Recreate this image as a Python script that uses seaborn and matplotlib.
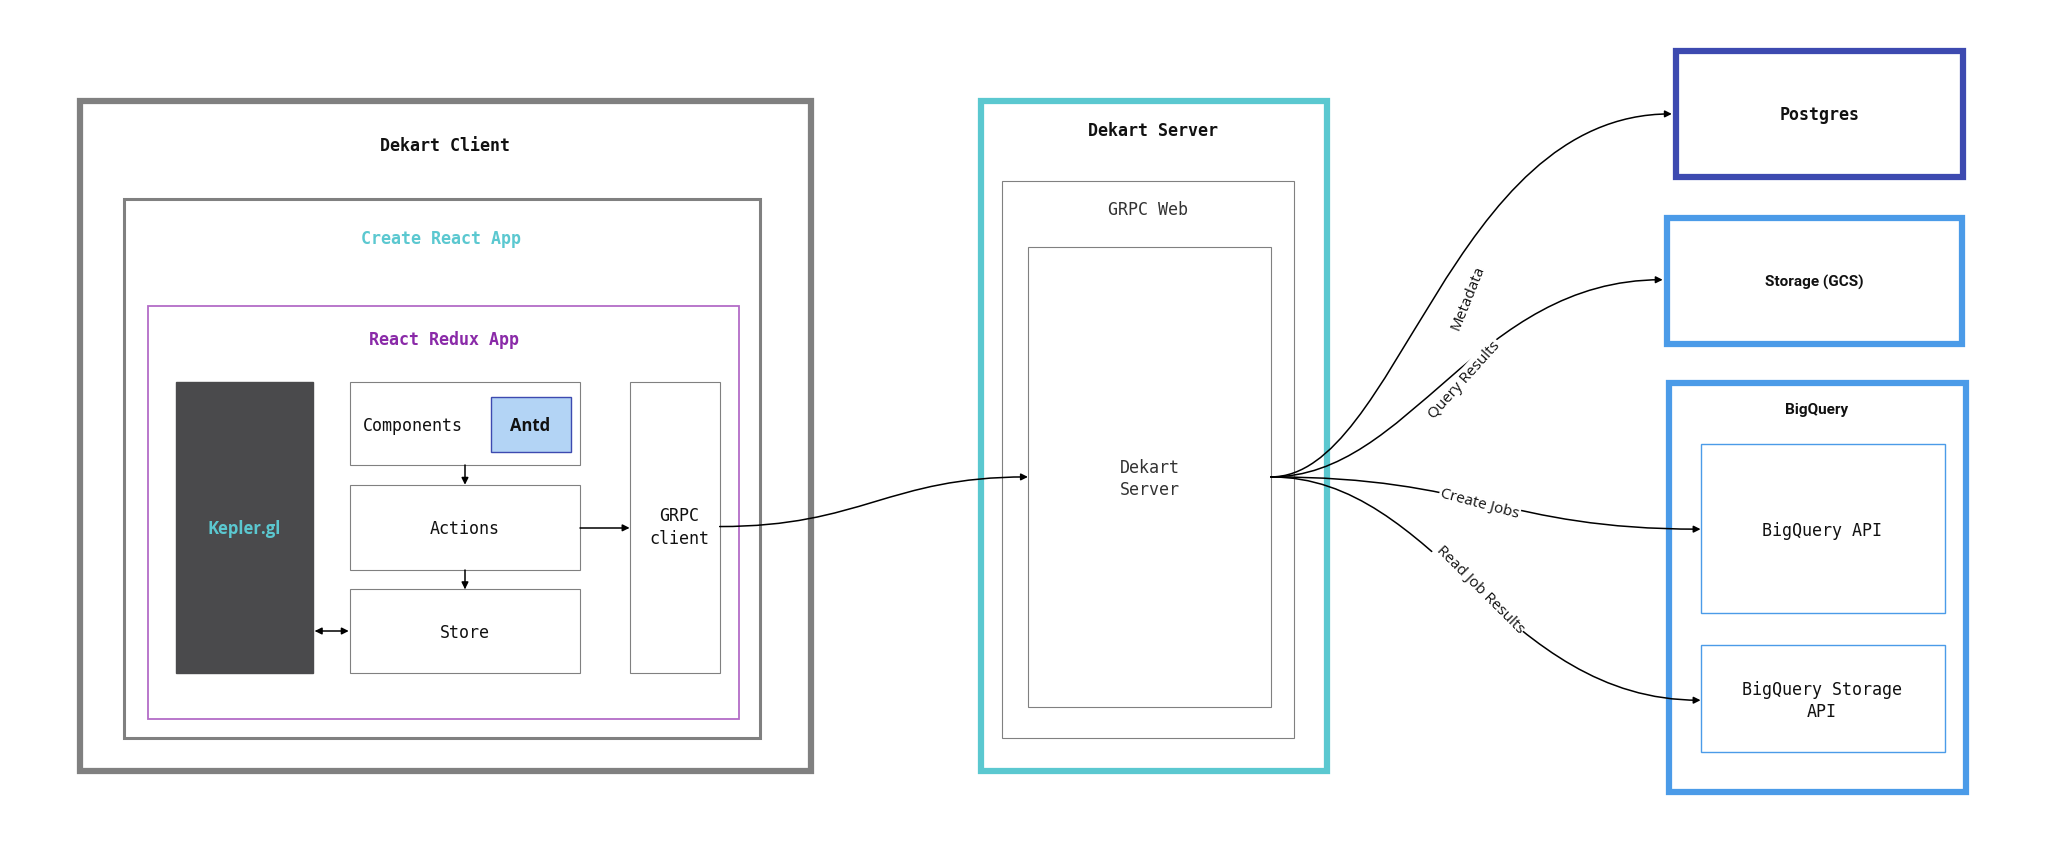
import matplotlib
matplotlib.use("Agg")
import matplotlib.pyplot as plt
import seaborn as sns
from matplotlib.patches import Rectangle, FancyArrowPatch
from matplotlib.path import Path

sns.set_theme(style="white")
plt.rcParams['font.family'] = ['DejaVu Sans Mono', 'DejaVu Sans']

box_names = ["Dekart Client", "Create React App", "React Redux App", "Kepler.gl", "Components",
             "Antd", "Actions", "Store", "GRPC\nclient", "Dekart Server", "GRPC Web",
             "Dekart\nServer", "Postgres", "Storage (GCS)", "BigQuery", "BigQuery API",
             "BigQuery Storage\nAPI"]
edge_labels = ["Metadata", "Query Results", "Create Jobs", "Read Job Results"]

fig = plt.figure(figsize=(20.48, 8.54), dpi=100)
ax = fig.add_axes([0, 0, 1, 1])
ax.set_xlim(0, 1568); ax.set_ylim(654, 0); ax.axis("off")

def box(x0, y0, x1, y1, ec, lw, fc="none"):
    ax.add_patch(Rectangle((x0, y0), x1 - x0, y1 - y0, fill=fc != "none", fc=fc, ec=ec, lw=lw))

def txt(x, y, s, color="#111", bold=False, size=12, fam=None):
    kw = {}
    if fam: kw["family"] = fam
    ax.text(x, y, s, ha="center", va="center", color=color, fontsize=size,
            fontweight="bold" if bold else "normal", linespacing=1.3, **kw)

GRAY = "#808080"; CYAN = "#5bc8d0"; PURP = "#b36cc7"; NAVY = "#3d4ab0"; BLUE = "#4b9be8"

box(61, 78, 621, 591, GRAY, 4.5); txt(341, 112, box_names[0], bold=True)
box(95, 153, 582, 566, GRAY, 2.2); txt(338, 183, box_names[1], color=CYAN, bold=True)
box(113, 235, 566, 551, PURP, 1.3); txt(340, 260, box_names[2], color="#8a2aa8", bold=True)
box(135, 293, 240, 516, "#4a4a4c", 1, fc="#4a4a4c"); txt(187, 405, box_names[3], color=CYAN, bold=True, fam=["Open Sans"])
box(268, 293, 444, 357, GRAY, 0.8); txt(316, 326, box_names[4])
box(376, 305, 437, 347, NAVY, 1, fc="#b3d4f5"); txt(406, 326, box_names[5], bold=True, fam=["Open Sans"])
box(268, 372, 444, 437, GRAY, 0.8); txt(356, 405, box_names[6])
box(268, 452, 444, 516, GRAY, 0.8); txt(356, 485, box_names[7])
box(482, 293, 551, 516, GRAY, 0.8); txt(520, 404, box_names[8])
box(751, 78, 1016, 591, CYAN, 4.5); txt(883, 100, box_names[9], bold=True)
box(767, 139, 991, 566, GRAY, 0.8); txt(879, 161, box_names[10], color="#333")
box(787, 190, 973, 542, GRAY, 0.8); txt(880, 367, box_names[11], color="#333")
box(1283, 40, 1503, 136, NAVY, 4.5); txt(1393, 88, box_names[12], bold=True)
box(1276, 168, 1502, 264, BLUE, 4.5); txt(1389, 216, box_names[13], bold=True, size=11, fam=["Roboto"])
box(1278, 294, 1505, 607, BLUE, 4.5); txt(1391, 314, box_names[14], bold=True, size=11, fam=["Roboto"])
box(1302, 341, 1489, 470, BLUE, 1); txt(1395, 407, box_names[15])
box(1302, 495, 1489, 577, BLUE, 1); txt(1395, 537, box_names[16])

def arrow(p0, p1, style="-|>", curve=None):
    if curve is None:
        path = Path([p0, p1], [Path.MOVETO, Path.LINETO])
    else:
        path = Path([p0, curve[0], curve[1], p1], [Path.MOVETO, Path.CURVE4, Path.CURVE4, Path.CURVE4])
    ax.add_patch(FancyArrowPatch(path=path, arrowstyle=style, mutation_scale=10, color="black", lw=1.1))

arrow((356, 357), (356, 372))
arrow((356, 437), (356, 452))
arrow((444, 405), (482, 405))
arrow((241, 484), (267, 484), style="<|-|>")
arrow((551, 404), (787, 366), curve=[(660, 404), (680, 366)])
s = (973, 366)
arrow(s, (1280, 88), curve=[(1070, 366), (1110, 88)])
arrow(s, (1273, 215), curve=[(1080, 366), (1130, 215)])
arrow(s, (1302, 406), curve=[(1130, 366), (1150, 406)])
arrow(s, (1302, 537), curve=[(1100, 366), (1150, 537)])

lab = dict(ha="center", va="center", fontsize=11, color="#111", family=["Open Sans"],
           bbox=dict(fc="white", ec="none", pad=1))
ax.text(1124, 228, edge_labels[0], rotation=68, **lab)
ax.text(1121, 291, edge_labels[1], rotation=48, **lab)
ax.text(1133, 386, edge_labels[2], rotation=-15, **lab)
ax.text(1133, 452, edge_labels[3], rotation=-45, **lab)

fig.savefig("out.png", dpi=100, facecolor="white")
